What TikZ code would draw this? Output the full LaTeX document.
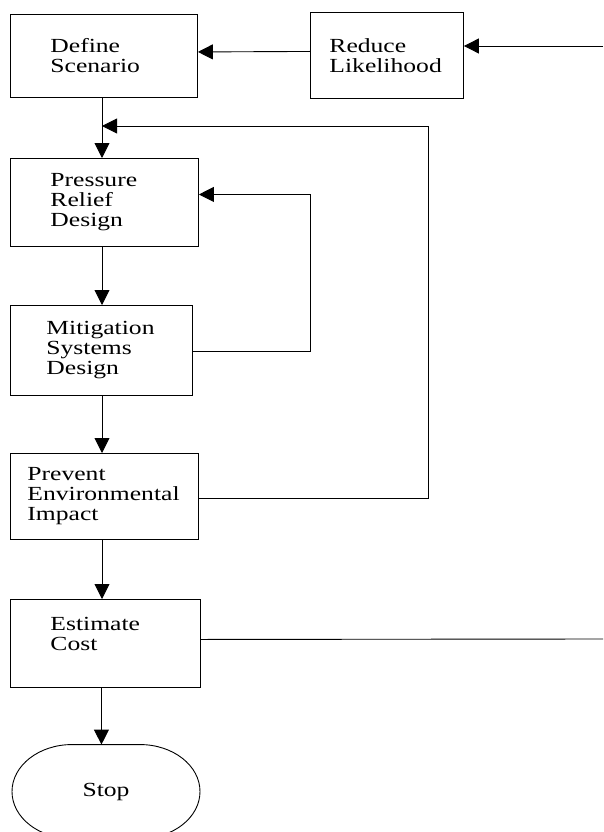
\documentclass[tikz,border=0pt]{standalone}
\usepackage{fontspec}
\setmainfont{Liberation Serif}[FakeStretch=1.28]
\usetikzlibrary{shapes, arrows.meta, calc, positioning}

\tikzset{
    procbox/.style={draw, anchor=north west, align=left, inner ysep=0pt},
    endbox/.style={rectangle, inner sep=0pt},
    flow/.style={line width=0.9pt}
}

\begin{document}
\begin{tikzpicture}[x=1pt, y=-1pt, line width=0.9pt, >={Triangle[length=15pt, width=15pt]}, font=\fontsize{20}{20}\selectfont]
    \useasboundingbox (0,0) rectangle (603,832);

    \node[procbox, minimum width=187pt, minimum height=83pt, text width=107pt, inner xsep=40pt] at (10,14) (define) {Define\\Scenario};
    \node[procbox, minimum width=153pt, minimum height=86pt, text width=115pt, inner xsep=19pt] at (310,12) (reduce) {Reduce\\Likelihood};
    \node[procbox, minimum width=188pt, minimum height=88pt, text width=108pt, inner xsep=40pt] at (10,158) (pressure) {Pressure\\Relief\\Design};
    \node[procbox, minimum width=182pt, minimum height=90pt, text width=110pt, inner xsep=36pt] at (10,305) (mitig) {Mitigation\\Systems\\Design};
    \node[procbox, minimum width=188pt, minimum height=86pt, text width=154pt, inner xsep=17pt] at (10,453) (prevent) {Prevent\\Environmental\\Impact};
    \node[procbox, minimum width=190pt, minimum height=88pt, text width=110pt, inner xsep=40pt] at (10,599) (estimate) {Estimate\\Cost\\~};
    \node[endbox, minimum width=188pt, minimum height=94pt] at (106,792) (stop) {Stop};
    % oval outline of the end node
    \draw ($(stop.north)+(-34,0)$) -- ++(68,0) arc[start angle=90, end angle=-90, x radius=60pt, y radius=47pt]
        -- ++(-68,0) arc[start angle=270, end angle=90, x radius=60pt, y radius=47pt];

    % free ends and the main spine
    \coordinate (spine) at (102,0);
    \coordinate (fromright) at (603,46);
    \coordinate (toright) at (603,639);
    \coordinate (join) at (102,126);

    \draw[flow, ->] (fromright) -- (fromright -| reduce.east);
    \draw[flow, ->] ([yshift=4pt]reduce.west) -- ([yshift=4pt]define.east);

    \draw[flow, ->] (define.south -| spine) -- (pressure.north -| spine);
    \draw[flow, ->] (pressure.south -| spine) -- (mitig.north -| spine);
    \draw[flow, ->] (mitig.south -| spine) -- (prevent.north -| spine);
    \draw[flow, ->] (prevent.south -| spine) -- (estimate.north -| spine);
    \draw[flow, ->] ([xshift=-4pt]estimate.south) -- ([xshift=-4pt]estimate.south |- stop.north);

    % loops back
    \draw[flow, ->] ([yshift=-1pt]mitig.east) -- ++(118,0) |- ([yshift=8pt]pressure.east);
    \draw[flow, ->] ([yshift=-2pt]prevent.east) -- ++(230,0) |- (join);
    \draw[flow] ([yshift=4pt]estimate.east) -- (toright);
\end{tikzpicture}
\end{document}
